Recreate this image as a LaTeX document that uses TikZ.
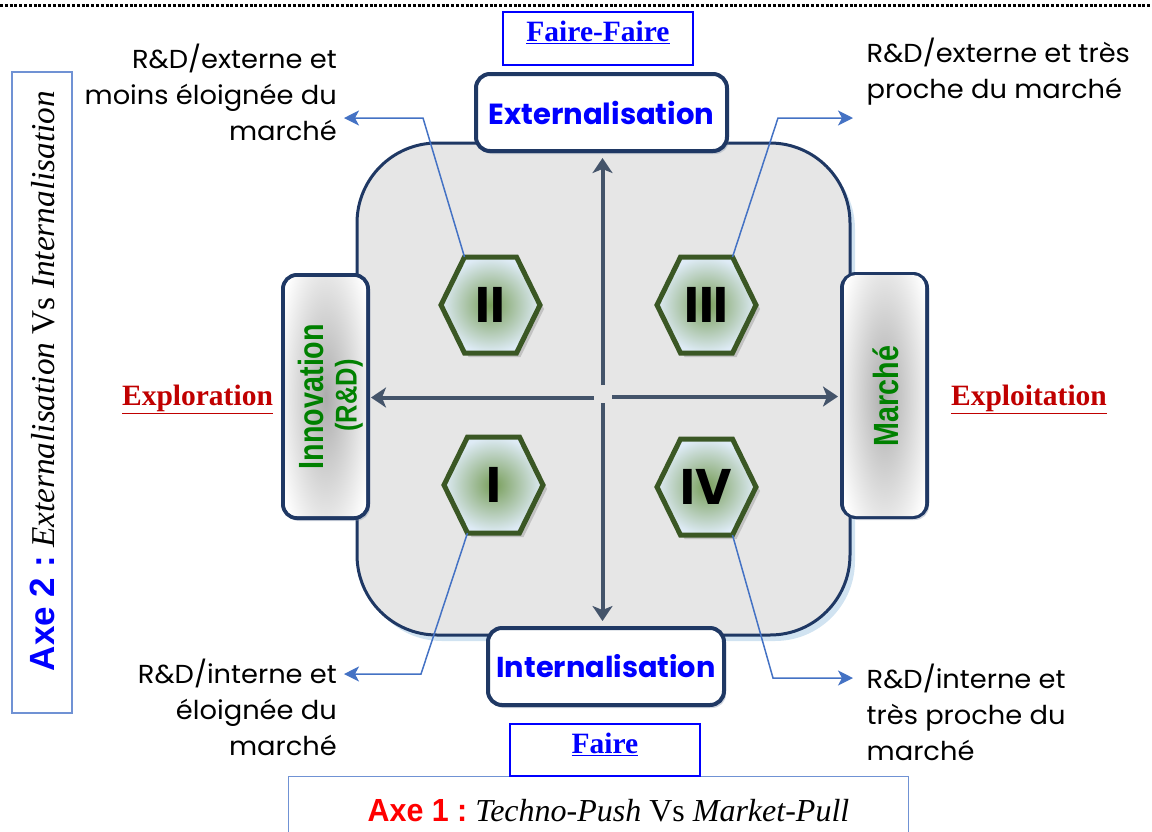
\documentclass[tikz,border=0pt]{standalone}
\usepackage{fontspec}
\usepackage{graphicx}
\setmainfont{Liberation Serif}
\newfontfamily\gothic{Poppins}
\newfontfamily\gothicw[FakeStretch=1.05]{Poppins}
\newfontfamily\heavy{Liberation Sans}
\usetikzlibrary{shapes.geometric,arrows.meta,shadows,calc}
\definecolor{navy}{RGB}{31,56,100}
\definecolor{slate}{RGB}{68,84,106}
\definecolor{sqgray}{RGB}{230,230,230}
\definecolor{glow}{RGB}{190,215,235}
\definecolor{callblue}{RGB}{68,114,196}
\definecolor{hexgreen}{RGB}{58,87,36}
\definecolor{hexblue}{RGB}{222,235,246}
\definecolor{hexcore}{RGB}{120,158,90}
\definecolor{pureblue}{RGB}{0,0,255}
\definecolor{darkred}{RGB}{192,0,0}
\definecolor{pgreen}{RGB}{0,128,0}
\definecolor{axeframe}{RGB}{112,146,212}
\newcommand\cnd[3]{\scalebox{#1}[1]{\fontsize{#2}{#2}\selectfont\heavy\bfseries #3}}
\newcommand\hexagon[4]{%
  \path (#2,#3) coordinate (#1)
    ++(-49.5,0) coordinate (#1-l)
    ++(23.5,-48) coordinate (#1-tl)
    ++(52,0) coordinate (#1-tr)
    ++(23.5,48) coordinate (#1-r)
    ++(-23.5,48) coordinate (#1-br)
    ++(-52,0) coordinate (#1-bl);
  \draw[hexstyle] (#1-l) -- (#1-tl) -- (#1-tr) -- (#1-r) -- (#1-br) -- (#1-bl) -- cycle;
  \node[hextext] (#1-t) at (#1) {#4};
}
\begin{document}
\begin{tikzpicture}[x=1pt,y=-1pt,
  card/.style={draw=navy, line width=4pt, fill=white, rounded corners=14pt, inner sep=0pt,
    drop shadow={shadow xshift=2pt, shadow yshift=-3pt, opacity=0.35, fill=navy!60}},
  sidecard/.style={card, minimum width=85pt, minimum height=243pt},
  topcard/.style={card},
  axisarrow/.style={draw=slate, line width=4pt, -{Stealth[length=15pt,width=20pt,inset=4pt]}},
  callout/.style={draw=callblue, line width=1.5pt, -{Stealth[length=15pt,width=15pt,inset=4pt]}},
  calltext/.style={font=\gothicw\fontsize{26}{36}\selectfont, inner sep=0pt, text=black},
  hexstyle/.style={draw=hexgreen, line width=5pt, line join=miter, inner color=hexcore, outer color=hexblue,
    drop shadow={shadow xshift=4pt, shadow yshift=-4pt, opacity=0.35, fill=gray}},
  hextext/.style={font=\gothic\bfseries\fontsize{50}{50}\selectfont, text=black, inner sep=0pt},
  bluebox/.style={draw=pureblue, line width=1.5pt, inner sep=0pt},
  axebox/.style={draw=axeframe, line width=1.3pt, fill=white, inner sep=0pt},
  serifhead/.style={font=\bfseries\fontsize{29.5}{29.5}\selectfont, inner sep=0pt, anchor=base},
  boxtext/.style={text=pureblue, inner sep=0pt, anchor=base}
]
\useasboundingbox (0,0) rectangle (1152,831);

% top dotted rule
\draw[line width=2.8pt, dash pattern=on 3pt off 1.8pt] (0,5.5) -- (1152,5.5);

% axis frames
\node[axebox, minimum width=60pt, minimum height=641pt] (axe2box) at (42,392.5) {};
\node[rotate=90, anchor=base, inner sep=0pt] (axe2) at (54,381)
  {\textcolor{pureblue}{\cnd{1}{35}{Axe 2 :}}\fontsize{33.3}{34}\selectfont\ \textit{Externalisation} Vs \textit{Internalisation}};
\begin{scope}
\clip (0,0) rectangle (1152,831);
\node[axebox, minimum width=620pt, minimum height=80pt, anchor=north west] (axe1box) at (288,776) {};
\end{scope}
\node[anchor=base, inner sep=0pt] (axe1) at (608.5,821)
  {\textcolor{red}{\cnd{0.95}{32}{Axe 1 :}}\fontsize{32}{32}\selectfont\ \textit{Techno-Push} Vs \textit{Market-Pull}};

% Faire-Faire / Faire boxes
\node[bluebox, minimum width=190pt, minimum height=53pt] (ffbox) at (598,38.5) {};
\node[serifhead, text=pureblue] (ff) at (598,41.5) {\underline{Faire-Faire}};
\node[bluebox, minimum width=190pt, minimum height=52pt] (fbox) at (605,750) {};
\node[serifhead, text=pureblue] (f) at (605,753) {\underline{Faire}};

% central rounded square
\node[draw=navy, line width=3pt, fill=sqgray, rounded corners=80pt, minimum width=493pt, minimum height=492pt,
  drop shadow={shadow xshift=5pt, shadow yshift=-6pt, opacity=0.7, fill=glow}] (sq) at (603.5,389) {};

% top/bottom cards
\node[topcard, minimum width=251pt, minimum height=77pt] (ext) at (601.5,112.5)
  {\resizebox{226pt}{!}{\gothic\bfseries\color{pureblue}Externalisation}};
\node[topcard, minimum width=236pt, minimum height=77pt] (int) at (606,666.5)
  {\resizebox{219pt}{!}{\gothic\bfseries\color{pureblue}Internalisation}};

% side cards
\node[sidecard] (inno) at (325.5,396.5) {};
\begin{scope}
\clip[rounded corners=12pt] (285,277) rectangle (366,516);
\shade[inner color=gray!65, outer color=white] (275,225) rectangle (376,568);
\end{scope}
\node[rotate=90, anchor=base, inner sep=0pt, text=pgreen] (innot) at (323,396.5) {\cnd{0.82}{35}{Innovation}};
\node[rotate=90, anchor=base, inner sep=0pt, text=pgreen] (rdt) at (356.5,395.5) {\cnd{0.85}{30}{(R\&D)}};

\node[sidecard] (mkt) at (884.5,395.5) {};
\begin{scope}
\clip[rounded corners=12pt] (844,275) rectangle (925,516);
\shade[inner color=gray!65, outer color=white] (834,223) rectangle (935,568);
\end{scope}
\node[rotate=90, anchor=base, inner sep=0pt, text=pgreen] (mktt) at (898,396) {\cnd{0.82}{35}{Marché}};

% axis arrows
\coordinate (oN) at (602.5,385);
\coordinate (oS) at (602.5,403);
\coordinate (oW) at (594,397.5);
\coordinate (oE) at (612,396.5);
\draw[axisarrow, shorten >=5pt] (oN) -- (oN |- ext.south);
\draw[axisarrow, shorten >=5pt] (oS) -- (oS |- int.north);
\draw[axisarrow, shorten >=1pt] (oW) -- (oW -| inno.east);
\draw[axisarrow, shorten >=2pt] (oE) -- (oE -| mkt.west);

% exploration / exploitation
\node[serifhead, text=darkred] (explo) at (197.5,405.5) {\underline{Exploration}};
\node[serifhead, text=darkred] (exploi) at (1029,405.5) {\underline{Exploitation}};

% hexagons
\hexagon{h2}{490.5}{305}{II}
\hexagon{h3}{706.5}{305}{III}
\hexagon{h1}{493.5}{485}{I}
\hexagon{h4}{706.5}{487}{IV}

% callout texts
\node[calltext, align=right, anchor=north east] (t2) at (337,44) {R\&D/externe et\\moins éloignée du\\marché};
\node[calltext, align=left, anchor=north west] (t3) at (866.5,38) {R\&D/externe et très\\proche du marché};
\node[calltext, align=right, anchor=north east] (t1) at (337,659) {R\&D/interne et\\éloignée du\\marché};
\node[calltext, align=left, anchor=north west] (t4) at (866.5,664) {R\&D/interne et\\très proche du\\marché};

% callout connectors
\coordinate (k2) at (423,118); \coordinate (a2) at (344,118);
\coordinate (k3) at (778,118); \coordinate (a3) at (853,118);
\coordinate (k1) at (421,674); \coordinate (a1) at (344,674);
\coordinate (k4) at (773,678); \coordinate (a4) at (853,678);
\draw[callout] (h2-tl) -- (k2) -- (a2);
\draw[callout] (h3-tr) -- (k3) -- (a3);
\draw[callout] (h1-bl) -- (k1) -- (a1);
\draw[callout] (h4-br) -- (k4) -- (a4);
\end{tikzpicture}
\end{document}
